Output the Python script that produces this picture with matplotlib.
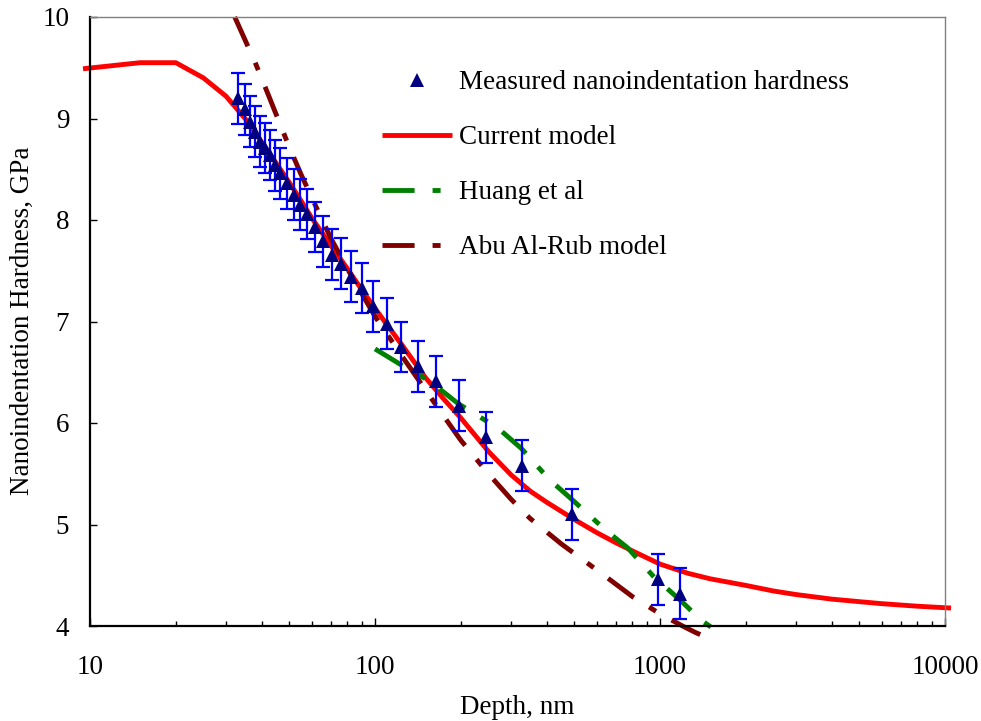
import matplotlib
matplotlib.use("Agg")
import matplotlib.pyplot as plt
from matplotlib.ticker import LogLocator, NullFormatter, FixedLocator

plt.rcParams['font.family'] = ['Liberation Serif', 'DejaVu Serif']

# Measured nanoindentation hardness
depth_meas = [33.0, 35.1, 36.5, 38.0, 39.6, 41.2, 42.7, 44.7, 46.5, 49.0,
              51.8, 54.6, 57.6, 61.6, 65.6, 70.5, 76.0, 82.4, 89.8, 98.6,
              109.8, 123.3, 141, 164.3, 197, 245.9, 327.8, 491.6, 980.8, 1174]
hard_meas = [9.20, 9.09, 8.97, 8.87, 8.77, 8.71, 8.64, 8.54, 8.46, 8.36,
             8.25, 8.15, 8.06, 7.93, 7.79, 7.66, 7.57, 7.44, 7.33, 7.15,
             6.98, 6.75, 6.56, 6.41, 6.17, 5.86, 5.58, 5.10, 4.46, 4.32]
hard_err = [0.25, 0.25, 0.25, 0.25, 0.25, 0.25, 0.25, 0.25, 0.25, 0.25,
            0.25, 0.25, 0.25, 0.25, 0.25, 0.25, 0.25, 0.25, 0.25, 0.25,
            0.25, 0.25, 0.25, 0.25, 0.25, 0.25, 0.25, 0.25, 0.25, 0.25]

# Current model
depth_cur = [9.45, 15, 20, 25, 30, 35, 40, 45, 50, 55, 60, 70, 80, 90, 100,
             110, 125, 150, 175, 200, 250, 300, 350, 400, 500, 600, 700, 800,
             1000, 1250, 1500, 2000, 2500, 3000, 4000, 5000, 6000, 8000,
             10000, 10500]
hard_cur = [9.49, 9.55, 9.55, 9.40, 9.22, 9.00, 8.77, 8.56, 8.37, 8.19, 8.02,
            7.75, 7.52, 7.31, 7.13, 6.97, 6.76, 6.45, 6.23, 6.05, 5.72, 5.49,
            5.33, 5.22, 5.05, 4.92, 4.82, 4.74, 4.61, 4.52, 4.465, 4.40,
            4.345, 4.31, 4.265, 4.24, 4.22, 4.195, 4.18, 4.177]

# Huang et al
depth_huang = [100, 124, 156, 196, 270, 326, 410, 494, 647, 770, 955, 1183,
               1390, 1600]
hard_huang = [6.73, 6.57, 6.41, 6.19, 5.95, 5.75, 5.44, 5.24, 4.94, 4.77,
              4.48, 4.25, 4.06, 3.94]

# Abu Al-Rub model
depth_abu = [32.2, 38, 42, 45, 50, 55, 60, 70, 80, 100, 125, 150, 175, 200,
             250, 300, 350, 450, 550, 650, 800, 1000, 1200, 1323, 1450]
hard_abu = [10.0, 9.55, 9.25, 9.04, 8.72, 8.45, 8.22, 7.82, 7.52, 7.05, 6.65,
            6.33, 6.06, 5.83, 5.50, 5.25, 5.06, 4.81, 4.63, 4.48, 4.29, 4.12,
            4.00, 3.94, 3.89]

labels = ["Measured nanoindentation hardness", "Current model",
          "Huang et al", "Abu Al-Rub model"]
xticks = [10, 100, 1000, 10000]
yticks = [4, 5, 6, 7, 8, 9, 10]

W, H = 981, 721
fig = plt.figure(figsize=(W / 100, H / 100), dpi=100)
ax = fig.add_axes([90 / W, 1 - 626 / H, (945 - 90) / W, (626 - 17) / H])

fs = 19.5
lw = 3.5
dash = (6.6, 3.7, 1.65, 3.7)

ax.errorbar(depth_meas, hard_meas, yerr=hard_err, fmt='none', ecolor='#0000FF',
            elinewidth=1.6, capsize=4.8, capthick=1.6, zorder=3)
h_meas, = ax.plot(depth_meas, hard_meas, linestyle='none', marker='^',
                  markersize=10, color='#000080', markeredgewidth=0, zorder=4)
h_cur, = ax.plot(depth_cur, hard_cur, color='#FF0000', lw=lw, clip_on=False,
                 zorder=2, solid_capstyle='butt', solid_joinstyle='round')
h_huang, = ax.plot(depth_huang, hard_huang, color='#008000', lw=lw,
                   clip_on=False, zorder=2, dashes=dash, dash_capstyle='butt')
h_abu, = ax.plot(depth_abu, hard_abu, color='#800000', lw=lw, clip_on=False,
                 zorder=2, dashes=dash, dash_capstyle='butt')

ax.set_xscale('log')
ax.set_xlim(10, 10000)
ax.set_ylim(4, 10)
ax.xaxis.set_major_locator(FixedLocator(xticks))
ax.set_xticklabels([str(v) for v in xticks])
ax.xaxis.set_minor_locator(LogLocator(base=10, subs=range(2, 10)))
ax.xaxis.set_minor_formatter(NullFormatter())
ax.set_yticks(yticks)
ax.set_yticklabels([str(v) for v in yticks])

ax.tick_params(axis='x', which='major', direction='in', length=5.5, width=1,
               labelsize=fs, pad=21, top=False)
ax.tick_params(axis='x', which='minor', direction='in', length=3.6, width=1,
               top=False)
ax.tick_params(axis='y', which='major', direction='in', length=5, width=1,
               labelsize=fs, pad=15, right=False)
ax.tick_params(axis='y', which='minor', left=False, right=False)

for s in ['left', 'bottom']:
    ax.spines[s].set_color('black')
    ax.spines[s].set_linewidth(1.6)
for s in ['top', 'right']:
    ax.spines[s].set_color('#808080')
    ax.spines[s].set_linewidth(1.0)

fig.text(517.5 / W, 1 - 708 / H, "Depth, nm", ha='center', va='center',
         fontsize=fs)
fig.text(22 / W, 1 - 321 / H, "Nanoindentation Hardness, GPa", ha='center',
         va='center', rotation=90, fontsize=fs)

leg = ax.legend([h_meas, h_cur, h_huang, h_abu], labels, frameon=False,
                loc='upper left', bbox_to_anchor=(382 / W, 1 - 70 / H),
                bbox_transform=fig.transFigure, borderaxespad=0, borderpad=0,
                fontsize=fs, handlelength=2.6, handletextpad=0.25,
                labelspacing=1.11, numpoints=1)

fig.savefig("out.png", dpi=100)
